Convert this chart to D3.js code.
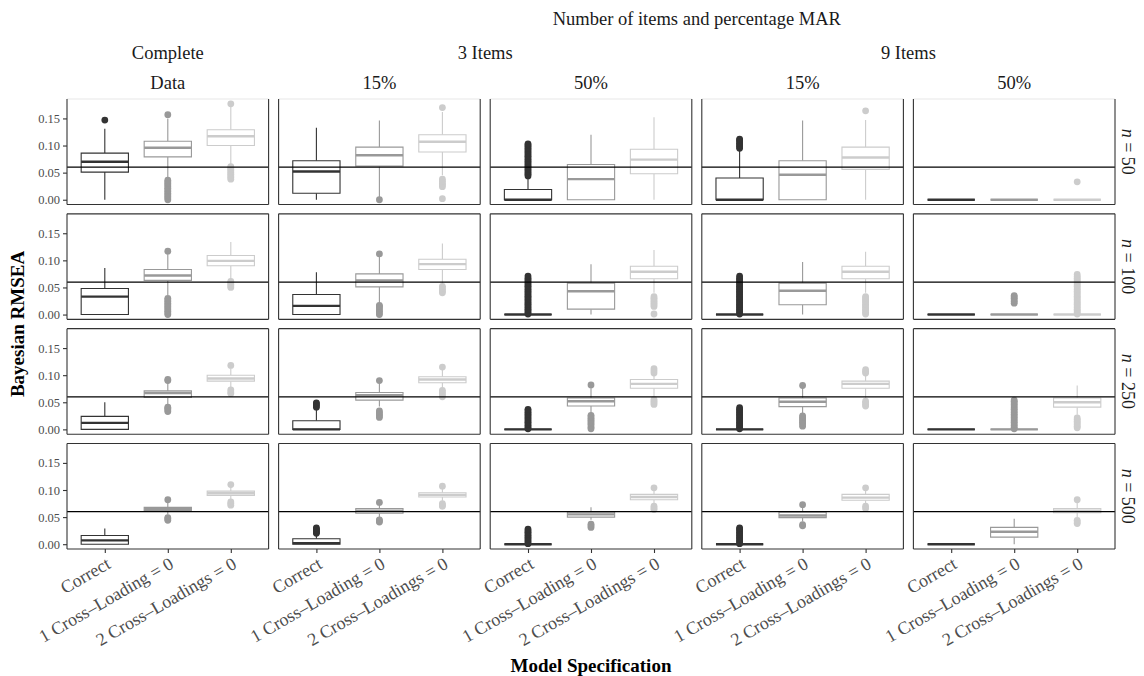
<!DOCTYPE html>
<html>
<head>
<meta charset="utf-8">
<script src="https://cdn.jsdelivr.net/npm/d3@7"></script>
<style>
  body { margin: 0; background: #fff; }
  svg { display: block; }
</style>
</head>
<body>
<svg id="chart" width="1144" height="676"></svg>
<script>
// Facet labels
const outerTitle = "Number of items and percentage MAR";
const groupLabels = ["Complete", "3 Items", "9 Items"];
const missingLabels = ["Data", "15%", "50%", "15%", "50%"];
const sampleSizes = [50, 100, 250, 500];
const specifications = ["Correct", "1 Cross\u2013Loading = 0", "2 Cross\u2013Loadings = 0"];
const yTicks = [0, 0.05, 0.10, 0.15];
const cutoff = 0.06;

// Box statistics per panel column, then per specification:
// [lower whisker, Q1, median, Q3, upper whisker]
const boxesN50 = [
  [[0.000, 0.051, 0.070, 0.086, 0.131], [0.039, 0.079, 0.096, 0.108, 0.150], [0.064, 0.100, 0.117, 0.129, 0.171]],
  [[0.000, 0.012, 0.052, 0.072, 0.133], [0.005, 0.062, 0.082, 0.097, 0.146], [0.045, 0.088, 0.107, 0.120, 0.162]],
  [[0.000, 0.000, 0.000, 0.019, 0.042], [0.000, 0.000, 0.038, 0.065, 0.120], [0.000, 0.048, 0.074, 0.093, 0.152]],
  [[0.000, 0.000, 0.000, 0.040, 0.092], [0.000, 0.000, 0.046, 0.072, 0.146], [0.000, 0.056, 0.078, 0.097, 0.147]],
  [[0.000, 0.000, 0.000, 0.000, 0.000], [0.000, 0.000, 0.000, 0.000, 0.000], [0.000, 0.000, 0.000, 0.000, 0.000]]
];
const boxesN100 = [
  [[0.000, 0.000, 0.033, 0.048, 0.086], [0.036, 0.063, 0.072, 0.083, 0.112], [0.066, 0.090, 0.099, 0.109, 0.134]],
  [[0.000, 0.000, 0.016, 0.037, 0.078], [0.021, 0.051, 0.063, 0.075, 0.108], [0.057, 0.083, 0.093, 0.102, 0.131]],
  [[0.000, 0.000, 0.000, 0.000, 0.000], [0.000, 0.010, 0.043, 0.058, 0.093], [0.040, 0.066, 0.079, 0.089, 0.119]],
  [[0.000, 0.000, 0.000, 0.000, 0.000], [0.000, 0.018, 0.044, 0.058, 0.097], [0.040, 0.066, 0.079, 0.089, 0.116]],
  [[0.000, 0.000, 0.000, 0.000, 0.000], [0.000, 0.000, 0.000, 0.000, 0.000], [0.000, 0.000, 0.000, 0.000, 0.000]]
];
const boxesN250 = [
  [[0.000, 0.000, 0.012, 0.024, 0.050], [0.045, 0.059, 0.067, 0.071, 0.087], [0.078, 0.089, 0.094, 0.100, 0.113]],
  [[0.000, 0.000, 0.000, 0.016, 0.036], [0.042, 0.054, 0.063, 0.068, 0.085], [0.076, 0.086, 0.092, 0.097, 0.110]],
  [[0.000, 0.000, 0.000, 0.000, 0.000], [0.030, 0.043, 0.052, 0.058, 0.078], [0.060, 0.076, 0.084, 0.092, 0.099]],
  [[0.000, 0.000, 0.000, 0.000, 0.000], [0.030, 0.042, 0.051, 0.058, 0.078], [0.058, 0.076, 0.084, 0.089, 0.099]],
  [[0.000, 0.000, 0.000, 0.000, 0.000], [0.000, 0.000, 0.000, 0.000, 0.000], [0.027, 0.041, 0.050, 0.058, 0.081]]
];
const boxesN500 = [
  [[0.000, 0.000, 0.007, 0.016, 0.029], [0.055, 0.062, 0.065, 0.068, 0.078], [0.082, 0.090, 0.094, 0.098, 0.106]],
  [[0.000, 0.000, 0.002, 0.010, 0.017], [0.050, 0.057, 0.062, 0.066, 0.073], [0.080, 0.087, 0.091, 0.095, 0.102]],
  [[0.000, 0.000, 0.000, 0.000, 0.000], [0.045, 0.050, 0.055, 0.059, 0.068], [0.076, 0.082, 0.087, 0.092, 0.098]],
  [[0.000, 0.000, 0.000, 0.000, 0.000], [0.042, 0.049, 0.053, 0.059, 0.069], [0.075, 0.081, 0.086, 0.092, 0.098]],
  [[0.000, 0.000, 0.000, 0.000, 0.000], [0.000, 0.013, 0.023, 0.031, 0.047], [0.050, 0.058, 0.062, 0.066, 0.077]]
];

// Outlying RMSEA values, same nesting as the box statistics
const outliersN50 = [
  [[0.147],
   [0.000, 0.003, 0.006, 0.009, 0.012, 0.015, 0.018, 0.021, 0.024, 0.027, 0.030, 0.033, 0.036, 0.157],
   [0.038, 0.041, 0.044, 0.047, 0.050, 0.053, 0.056, 0.059, 0.061, 0.177]],
  [[],
   [0.000],
   [0.002, 0.024, 0.027, 0.030, 0.034, 0.038, 0.170]],
  [[0.044, 0.047, 0.050, 0.053, 0.056, 0.059, 0.062, 0.065, 0.068, 0.071, 0.074, 0.077, 0.080, 0.083, 0.086, 0.089, 0.092, 0.095, 0.098, 0.101, 0.103],
   [],
   []],
  [[0.095, 0.098, 0.101, 0.104, 0.107, 0.110, 0.112],
   [],
   [0.164]],
  [[], [], [0.033]]
];
const outliersN100 = [
  [[],
   [0.000, 0.003, 0.006, 0.009, 0.012, 0.015, 0.018, 0.021, 0.024, 0.027, 0.030, 0.117],
   [0.050, 0.053, 0.056, 0.059, 0.061]],
  [[],
   [0.000, 0.003, 0.006, 0.009, 0.012, 0.015, 0.017, 0.112],
   [0.040, 0.043, 0.046, 0.049, 0.052]],
  [[0.001, 0.004, 0.007, 0.010, 0.013, 0.016, 0.019, 0.022, 0.025, 0.028, 0.031, 0.034, 0.037, 0.040, 0.043, 0.046, 0.049, 0.052, 0.055, 0.058, 0.061, 0.064, 0.067, 0.071],
   [],
   [0.001, 0.015, 0.018, 0.021, 0.024, 0.027, 0.030, 0.033]],
  [[0.001, 0.004, 0.007, 0.010, 0.013, 0.016, 0.019, 0.022, 0.025, 0.028, 0.031, 0.034, 0.037, 0.040, 0.043, 0.046, 0.049, 0.052, 0.055, 0.058, 0.061, 0.064, 0.067, 0.071],
   [],
   [0.001, 0.004, 0.007, 0.010, 0.013, 0.016, 0.019, 0.022, 0.025, 0.028, 0.031, 0.033]],
  [[],
   [0.021, 0.024, 0.027, 0.030, 0.033, 0.035],
   [0.001, 0.004, 0.007, 0.010, 0.013, 0.016, 0.019, 0.022, 0.025, 0.028, 0.031, 0.034, 0.037, 0.040, 0.043, 0.046, 0.049, 0.052, 0.055, 0.058, 0.061, 0.064, 0.067, 0.070, 0.074]]
];
const outliersN250 = [
  [[],
   [0.033, 0.036, 0.039, 0.041, 0.090, 0.092],
   [0.066, 0.069, 0.073, 0.118]],
  [[0.041, 0.044, 0.047, 0.049],
   [0.022, 0.025, 0.028, 0.031, 0.034, 0.090],
   [0.060, 0.064, 0.068, 0.072, 0.115]],
  [[0.001, 0.004, 0.007, 0.010, 0.013, 0.016, 0.019, 0.022, 0.025, 0.028, 0.031, 0.034, 0.037],
   [0.001, 0.004, 0.008, 0.011, 0.014, 0.017, 0.020, 0.023, 0.026, 0.082],
   [0.046, 0.049, 0.052, 0.055, 0.104, 0.108, 0.112]],
  [[0.001, 0.004, 0.007, 0.010, 0.013, 0.016, 0.019, 0.022, 0.025, 0.028, 0.031, 0.034, 0.037, 0.040],
   [0.006, 0.010, 0.013, 0.016, 0.019, 0.022, 0.025, 0.081],
   [0.043, 0.046, 0.049, 0.052, 0.104, 0.107, 0.110]],
  [[],
   [0.001, 0.004, 0.007, 0.010, 0.013, 0.016, 0.019, 0.022, 0.025, 0.028, 0.031, 0.034, 0.037, 0.040, 0.043, 0.046, 0.049, 0.052, 0.054],
   [0.003, 0.006, 0.009, 0.012, 0.015, 0.018, 0.021]]
];
const outliersN500 = [
  [[],
   [0.044, 0.047, 0.049, 0.082],
   [0.072, 0.075, 0.078, 0.110]],
  [[0.020, 0.022, 0.024, 0.026, 0.028, 0.030],
   [0.041, 0.043, 0.045, 0.077],
   [0.070, 0.072, 0.075, 0.107]],
  [[0.001, 0.004, 0.007, 0.010, 0.013, 0.016, 0.019, 0.022, 0.025, 0.028],
   [0.031, 0.034, 0.037],
   [0.064, 0.067, 0.070, 0.104]],
  [[0.001, 0.004, 0.007, 0.010, 0.013, 0.016, 0.019, 0.022, 0.025, 0.028, 0.030],
   [0.034, 0.036, 0.073],
   [0.066, 0.070, 0.104]],
  [[],
   [],
   [0.038, 0.041, 0.044, 0.082]]
];

const boxesByRow = [boxesN50, boxesN100, boxesN250, boxesN500];
const outliersByRow = [outliersN50, outliersN100, outliersN250, outliersN500];
const specColors = ["#333333", "#999999", "#cccccc"];

// Layout
const serif = "'Liberation Serif', 'Times New Roman', Times, serif";
const area = { left: 67, right: 1115, top: 99, bottom: 549 };
const colGap = 10, rowGap = 9.3;
const nCols = missingLabels.length, nRows = sampleSizes.length;
const colW = (area.right - area.left - (nCols - 1) * colGap) / nCols;
const rowH = (area.bottom - area.top - (nRows - 1) * rowGap) / nRows;
const colX = c => area.left + c * (colW + colGap);
const rowY = r => area.top + r * (rowH + rowGap);

// Shared scales (fixed y across facets, 5% expansion as in ggplot)
const allVals = boxesByRow.flat(3).concat(outliersByRow.flat(3));
const vMin = d3.min(allVals), vMax = d3.max(allVals);
const pad = 0.05 * (vMax - vMin);
const y = d3.scaleLinear().domain([vMin - pad, vMax + pad]).range([rowH, 0]);
const x = d3.scalePoint().domain(specifications).range([0, colW]).padding(0.6);
const boxW = x.step() * 0.75;

const svg = d3.select("#chart");
svg.append("rect").attr("width", 1144).attr("height", 676).attr("fill", "#fff");

for (let r = 0; r < nRows; r++) {
  for (let c = 0; c < nCols; c++) {
    const g = svg.append("g").attr("transform", `translate(${colX(c)},${rowY(r)})`);
    g.append("rect").attr("width", colW).attr("height", rowH).attr("fill", "#fff");

    specifications.forEach((spec, i) => {
      const s = boxesByRow[r][c][i];
      const out = outliersByRow[r][c][i];
      const col = specColors[i];
      const cx = x(spec);
      const bg = g.append("g");

      bg.selectAll("circle").data(out).join("circle")
        .attr("cx", cx).attr("cy", d => y(d)).attr("r", 3.4)
        .attr("fill", col);

      bg.append("line").attr("x1", cx).attr("x2", cx)
        .attr("y1", y(s[0])).attr("y2", y(s[1]))
        .attr("stroke", col).attr("stroke-width", 1.1);
      bg.append("line").attr("x1", cx).attr("x2", cx)
        .attr("y1", y(s[3])).attr("y2", y(s[4]))
        .attr("stroke", col).attr("stroke-width", 1.1);

      const x0 = cx - boxW / 2, x1 = cx + boxW / 2;
      bg.append("path")
        .attr("d", `M${x0},${y(s[3])}H${x1}V${y(s[1])}H${x0}Z`)
        .attr("fill", "#fff").attr("stroke", col).attr("stroke-width", 1.1);
      bg.append("line").attr("x1", x0).attr("x2", x1)
        .attr("y1", y(s[2])).attr("y2", y(s[2]))
        .attr("stroke", col).attr("stroke-width", 2.4);
    });

    // Reference cutoff
    g.append("line").attr("x1", 0).attr("x2", colW)
      .attr("y1", y(cutoff)).attr("y2", y(cutoff))
      .attr("stroke", "#000").attr("stroke-width", 1.3);

    // Panel border
    const border = "#333333";
    g.append("line").attr("x1", 0).attr("x2", colW).attr("y1", 0).attr("y2", 0)
      .attr("stroke", r === 0 ? "#e8e8e8" : border).attr("stroke-width", 1.1);
    g.append("line").attr("x1", 0).attr("x2", colW).attr("y1", rowH).attr("y2", rowH)
      .attr("stroke", border).attr("stroke-width", 1.1);
    g.append("line").attr("x1", 0).attr("x2", 0).attr("y1", 0).attr("y2", rowH)
      .attr("stroke", border).attr("stroke-width", 1.1);
    g.append("line").attr("x1", colW).attr("x2", colW).attr("y1", 0).attr("y2", rowH)
      .attr("stroke", border).attr("stroke-width", 1.1);

    // Y axis on the first column
    if (c === 0) {
      const ya = g.append("g").call(
        d3.axisLeft(y).tickValues(yTicks).tickSize(4).tickPadding(3).tickFormat(d3.format(".2f"))
      );
      ya.select(".domain").remove();
      ya.selectAll("line").attr("stroke", "#333").attr("stroke-width", 1.1);
      ya.selectAll("text").attr("fill", "#4d4d4d").style("font-family", serif).style("font-size", "12.5px");
    }

    // X axis on the bottom row
    if (r === nRows - 1) {
      const xa = g.append("g").attr("transform", `translate(0,${rowH})`).call(
        d3.axisBottom(x).tickSize(4).tickPadding(3)
      );
      xa.select(".domain").remove();
      xa.selectAll("line").attr("stroke", "#333").attr("stroke-width", 1.1);
      xa.selectAll("text")
        .attr("y", 0).attr("dy", "0.72em")
        .attr("text-anchor", "end")
        .attr("transform", "translate(0,7) rotate(-30)")
        .attr("fill", "#4d4d4d")
        .style("font-family", serif).style("font-size", "18px");
    }
  }

  // Right strip: sample size
  const cyRow = rowY(r) + rowH / 2;
  const st = svg.append("text")
    .attr("transform", `translate(1128,${cyRow}) rotate(90)`)
    .attr("text-anchor", "middle").attr("dominant-baseline", "central")
    .attr("fill", "#1a1a1a")
    .style("font-family", serif).style("font-size", "18px");
  st.append("tspan").style("font-style", "italic").text("n");
  st.append("tspan").text(" = " + sampleSizes[r]);
}

// Top strips
const stripText = (txt, cx, yBase) => svg.append("text")
  .attr("x", cx).attr("y", yBase).attr("text-anchor", "middle")
  .attr("fill", "#1a1a1a").style("font-family", serif).style("font-size", "18.5px")
  .text(txt);

stripText(outerTitle, (colX(1) + colX(nCols - 1) + colW) / 2, 25);
stripText(groupLabels[0], colX(0) + colW / 2, 59);
stripText(groupLabels[1], (colX(1) + colX(2) + colW) / 2, 59);
stripText(groupLabels[2], (colX(3) + colX(4) + colW) / 2, 59);
missingLabels.forEach((lab, c) => stripText(lab, colX(c) + colW / 2, 89));

// Axis titles
svg.append("text")
  .attr("transform", `translate(24,${(area.top + area.bottom) / 2}) rotate(-90)`)
  .attr("text-anchor", "middle")
  .attr("fill", "#000").style("font-family", serif).style("font-size", "19px").style("font-weight", "bold")
  .text("Bayesian RMSEA");

svg.append("text")
  .attr("x", (area.left + area.right) / 2).attr("y", 672)
  .attr("text-anchor", "middle")
  .attr("fill", "#000").style("font-family", serif).style("font-size", "19px").style("font-weight", "bold")
  .text("Model Specification");
</script>
</body>
</html>
